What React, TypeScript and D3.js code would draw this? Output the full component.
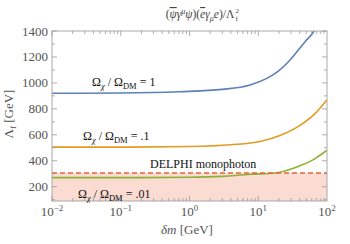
import React, { useEffect, useRef } from 'react';
import * as d3 from 'd3';

// curve samples: delta m [GeV] -> Lambda_f [GeV]
const dmBlue = [0.01, 0.1, 0.73, 3, 7.6, 14.8, 20, 29, 48, 65, 80];
const lamBlue = [920, 922, 932, 950, 984, 1048, 1095, 1177, 1318, 1400, 1500];

const dmOrange = [0.01, 0.1, 1, 4, 10.6, 20.7, 40.5, 67, 100];
const lamOrange = [505, 505, 510, 524, 549, 595, 673, 763, 870];

const dmGreen = [0.01, 0.1, 1, 3, 7.6, 17.4, 40.5, 67, 100];
const lamGreen = [270, 270, 273, 280, 296, 306, 362, 417, 481];

const delphiLimit = 306;

const xTickExps = [-2, -1, 0, 1, 2];
const yTicks = [200, 400, 600, 800, 1000, 1200, 1400];

const App = () => {
  const svgRef = useRef<SVGSVGElement>(null);

  useEffect(() => {
    const svg = d3.select(svgRef.current);
    svg.selectAll('*').remove();

    const left = 52, right = 327, top = 31, bottom = 201;
    const x = d3.scaleLog().domain([0.01, 100]).range([left, right]);
    const y = d3.scaleLinear().domain([90, 1400]).range([bottom, top]);

    const serif = '"Liberation Serif", "DejaVu Serif", serif';
    const tickCol = '#555';

    svg.append('defs').append('clipPath').attr('id', 'plotclip')
      .append('rect').attr('x', left).attr('y', top)
      .attr('width', right - left).attr('height', bottom - top);

    const plot = svg.append('g').attr('clip-path', 'url(#plotclip)');

    // excluded region
    plot.append('rect')
      .attr('x', left).attr('y', y(delphiLimit))
      .attr('width', right - left).attr('height', bottom - y(delphiLimit))
      .attr('fill', '#fadcd3');

    const line = d3.line<[number, number]>()
      .x(d => x(d[0])).y(d => y(d[1]))
      .curve(d3.curveMonotoneX);

    const series = [
      { dm: dmBlue, lam: lamBlue, color: '#5e81b5' },
      { dm: dmOrange, lam: lamOrange, color: '#e19c24' },
      { dm: dmGreen, lam: lamGreen, color: '#8fb032' },
    ];
    series.forEach(s => {
      plot.append('path')
        .attr('d', line(s.dm.map((d, i) => [d, s.lam[i]] as [number, number])))
        .attr('fill', 'none')
        .attr('stroke', s.color)
        .attr('stroke-width', 1.6);
    });

    plot.append('line')
      .attr('x1', left).attr('x2', right)
      .attr('y1', y(delphiLimit)).attr('y2', y(delphiLimit))
      .attr('stroke', '#eb6235')
      .attr('stroke-width', 1.6)
      .attr('stroke-dasharray', '5,3');

    // frame
    svg.append('rect')
      .attr('x', left).attr('y', top)
      .attr('width', right - left).attr('height', bottom - top)
      .attr('fill', 'none').attr('stroke', '#aaa').attr('stroke-width', 1);

    // x ticks (log)
    const ticks = svg.append('g').attr('stroke', '#999').attr('stroke-width', 0.8);
    for (let e = -2; e < 2; e++) {
      for (let m = 1; m < 10; m++) {
        const v = m * Math.pow(10, e);
        const len = m === 1 ? 5 : 3;
        ticks.append('line').attr('x1', x(v)).attr('x2', x(v))
          .attr('y1', bottom).attr('y2', bottom - len);
        ticks.append('line').attr('x1', x(v)).attr('x2', x(v))
          .attr('y1', top).attr('y2', top + len);
      }
    }
    // y ticks
    d3.range(100, 1401, 100).forEach(v => {
      const len = v % 200 === 0 ? 5 : 3;
      ticks.append('line').attr('x1', left).attr('x2', left + len)
        .attr('y1', y(v)).attr('y2', y(v));
      ticks.append('line').attr('x1', right).attr('x2', right - len)
        .attr('y1', y(v)).attr('y2', y(v));
    });

    // tick labels
    yTicks.forEach(v => {
      svg.append('text')
        .attr('x', left - 4).attr('y', y(v) + 4.5)
        .attr('text-anchor', 'end')
        .attr('font-family', serif).attr('font-size', 13)
        .attr('fill', tickCol)
        .text(v);
    });
    xTickExps.forEach(e => {
      const t = svg.append('text')
        .attr('x', x(Math.pow(10, e))).attr('y', 216)
        .attr('text-anchor', 'middle')
        .attr('font-family', serif).attr('font-size', 13)
        .attr('fill', tickCol);
      t.append('tspan').text('10');
      t.append('tspan').attr('dy', -5).attr('font-size', 9)
        .text(e < 0 ? '\u2212' + Math.abs(e) : String(e));
    });

    // axis labels
    const xl = svg.append('text')
      .attr('x', 187).attr('y', 234)
      .attr('text-anchor', 'middle')
      .attr('font-family', serif).attr('font-size', 13)
      .attr('fill', tickCol);
    xl.append('tspan').attr('font-style', 'italic').text('\u03b4m');
    xl.append('tspan').text(' [GeV]');

    const yl = svg.append('text')
      .attr('transform', 'translate(13,114) rotate(-90)')
      .attr('text-anchor', 'middle')
      .attr('font-family', serif).attr('font-size', 13)
      .attr('fill', tickCol);
    yl.append('tspan').text('\u039b');
    yl.append('tspan').attr('dy', 3).attr('font-size', 9).text('f');
    yl.append('tspan').attr('dy', -3).text(' [GeV]');

    // title
    const ti = svg.append('text')
      .attr('x', 200).attr('y', 18)
      .attr('text-anchor', 'middle')
      .attr('font-family', serif).attr('font-size', 11.5)
      .attr('fill', '#444');
    ti.append('tspan').text('(');
    ti.append('tspan').attr('font-style', 'italic').attr('text-decoration', 'overline').text('\u03c8');
    ti.append('tspan').attr('font-style', 'italic').text('\u03b3');
    ti.append('tspan').attr('font-style', 'italic').attr('dy', -4).attr('font-size', 8).text('\u03bc');
    ti.append('tspan').attr('font-style', 'italic').attr('dy', 4).text('\u03c8');
    ti.append('tspan').text(')(');
    ti.append('tspan').attr('font-style', 'italic').attr('text-decoration', 'overline').text('e');
    ti.append('tspan').attr('font-style', 'italic').text('\u03b3');
    ti.append('tspan').attr('font-style', 'italic').attr('dy', 3).attr('font-size', 8).text('\u03bc');
    ti.append('tspan').attr('font-style', 'italic').attr('dy', -3).text('e');
    ti.append('tspan').text(')/\u039b');
    const tb = (ti.node() as SVGTextElement).getBBox();
    // stacked super/subscript on Lambda
    svg.append('text')
      .attr('x', tb.x + tb.width + 0.5).attr('y', 12.5)
      .attr('font-family', serif).attr('font-size', 7)
      .attr('fill', '#444').text('2');
    svg.append('text')
      .attr('x', tb.x + tb.width + 0.5).attr('y', 21)
      .attr('font-family', serif).attr('font-size', 7)
      .attr('fill', '#444').text('f');

    // curve labels
    const omegaLabel = (lx: number, ly: number, val: string) => {
      const t = svg.append('text')
        .attr('x', lx).attr('y', ly)
        .attr('font-family', serif).attr('font-size', 12)
        .attr('fill', '#111');
      t.append('tspan').text('\u03a9');
      t.append('tspan').attr('font-style', 'italic').attr('dy', 3).attr('font-size', 8.5).text('\u03c7');
      t.append('tspan').attr('dy', -3).text(' / \u03a9');
      t.append('tspan').attr('dy', 3).attr('font-size', 8.5).text('DM');
      t.append('tspan').attr('dy', -3).text(' = ' + val);
    };
    omegaLabel(92, 86, '1');
    omegaLabel(83, 140, '.1');
    omegaLabel(78, 198, '.01');

    svg.append('text')
      .attr('x', 150).attr('y', 168)
      .attr('font-family', serif).attr('font-size', 12)
      .attr('fill', '#111')
      .text('DELPHI monophoton');
  }, []);

  return (
    <svg ref={svgRef} width={350} height={244}
      style={{ position: 'absolute', left: 0, top: 0, background: '#fff' }} />
  );
};

export default App;
